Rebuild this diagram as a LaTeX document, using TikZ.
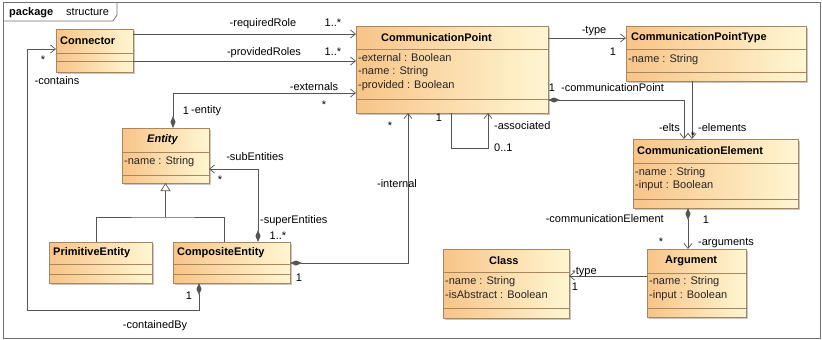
\documentclass[tikz,border=0pt]{standalone}
\usepackage{fontspec}
\setmainfont{Liberation Sans}
\usetikzlibrary{arrows.meta,calc,shadows}

\definecolor{clsL}{HTML}{F8C488}
\definecolor{clsR}{HTML}{FFF6D2}
\definecolor{clsLine}{HTML}{A8865E}
\definecolor{wire}{HTML}{555555}
\definecolor{frameLine}{HTML}{707070}

\tikzset{
  clsbox/.style={draw=clsLine, line width=0.8pt, left color=clsL, right color=clsR,
    inner sep=0pt, outer sep=0pt,
    drop shadow={shadow xshift=2pt, shadow yshift=-2pt, fill=black, opacity=0.22}},
  sepline/.style={draw=clsLine, line width=0.7pt},
  clstitle/.style={font=\fontsize{11}{13}\selectfont\bfseries, inner sep=0pt, anchor=west},
  attr/.style={font=\fontsize{11}{13}\selectfont, anchor=west, inner sep=0pt,
    text height=8pt, text depth=2.5pt, text=black!85},
  lbl/.style={font=\fontsize{11}{13}\selectfont, inner sep=0pt, text height=8pt, text depth=2pt},
  wire/.style={draw=wire, line width=0.7pt},
  nav/.style={wire, -{Straight Barb[length=5pt,width=8pt]}},
  compnav/.style={wire, {Diamond[length=12pt,width=5pt]}-{Straight Barb[length=5pt,width=8pt]}},
  gen/.style={wire, -{Triangle[open, length=8pt, width=10pt, fill=white]}},
}

% class box: name, x, y, width, height, 1st separator, 2nd separator, title, title indent
\newcommand\umlclass[9]{%
  \node[clsbox, minimum width=#4pt, minimum height=#5pt, anchor=north west] (#1) at (#2,#3) {};
  \draw[sepline] ($(#1.north west)+(0,#6)$) -- ($(#1.north east)+(0,#6)$);
  \draw[sepline] ($(#1.north west)+(0,#7)$) -- ($(#1.north east)+(0,#7)$);
  \node[clstitle] (#1-t) at ($(#1.north west)+(#9,#6/2)$) {#8};
}

\begin{document}
\begin{tikzpicture}[x=1pt, y=-1pt]
\useasboundingbox (0,0) rectangle (822,340);

% package frame
\draw[frameLine, line width=0.8pt] (3,2) rectangle (820,338);
\draw[frameLine, line width=0.8pt] (3,21) -- (113,21) -- (117,15) -- (117,2);
\node[lbl, anchor=west, font=\fontsize{11}{13}\selectfont\bfseries] (pkg-k) at (9,12) {package};
\node[lbl, anchor=west] (pkg-n) at (66,12) {structure};

% classes
\umlclass{conn}{56}{29}{77}{43}{24}{32}{Connector}{4}
\umlclass{cp}{356}{26}{192}{87}{23}{73}{CommunicationPoint}{25}
\umlclass{cpt}{626}{26}{180}{55}{23}{46}{CommunicationPointType}{5}
\umlclass{ce}{633}{139}{165}{69}{24}{60}{CommunicationElement}{4}
\umlclass{arg}{647}{249}{99}{68}{24}{59}{Argument}{18}
\umlclass{cls}{443}{249}{126}{69}{23}{59}{Class}{46}
\umlclass{ent}{122}{128}{87}{55}{24}{47}{\itshape Entity}{25}
\umlclass{pe}{49}{242}{103}{41}{22}{32}{PrimitiveEntity}{4}
\umlclass{cme}{173}{242}{117}{41}{22}{32}{CompositeEntity}{4}

% attributes
\node[attr] (cp-a1) at ($(cp.north west)+(2,33)$) {-external : Boolean};
\node[attr] (cp-a2) at ($(cp.north west)+(2,46)$) {-name : String};
\node[attr] (cp-a3) at ($(cp.north west)+(2,60)$) {-provided : Boolean};
\node[attr] (cpt-a1) at ($(cpt.north west)+(2,34)$) {-name : String};
\node[attr] (ce-a1) at ($(ce.north west)+(2,34)$) {-name : String};
\node[attr] (ce-a2) at ($(ce.north west)+(2,47)$) {-input : Boolean};
\node[attr] (arg-a1) at ($(arg.north west)+(2,33)$) {-name : String};
\node[attr] (arg-a2) at ($(arg.north west)+(2,47)$) {-input : Boolean};
\node[attr] (cls-a1) at ($(cls.north west)+(2,33)$) {-name : String};
\node[attr] (cls-a2) at ($(cls.north west)+(2,47)$) {-isAbstract : Boolean};
\node[attr] (ent-a1) at ($(ent.north west)+(2,34)$) {-name : String};

% generalization
\coordinate (bus) at ($(ent.south)+(0,34)$);
\draw[wire] ($(pe.north west)+(47,0)$) |- (bus) -| ($(cme.north west)+(51,0)$);
\draw[gen] (bus) -- (ent.south);

% associations
\draw[nav] ($(conn.north east)+(0,5)$) -- ($(cp.north west)+(0,8)$);
\draw[nav] ($(conn.north east)+(0,32)$) -- ($(cp.north west)+(0,35)$);
\draw[compnav] ($(ent.north west)+(51,0)$) |- ($(cp.north west)+(0,67)$);
\draw[compnav] ($(cme.north west)+(85,0)$) |- ($(ent.north east)+(0,41)$);
\draw[compnav] ($(cme.north east)+(0,21)$) -| ($(cp.south west)+(52,0)$);
\draw[nav] ($(cp.south west)+(95,0)$) -- ++(0,35) -| ($(cp.south west)+(132,0)$);
\draw[nav] ($(cp.north east)+(0,12)$) -- ($(cpt.north west)+(0,12)$);
\draw[compnav] ($(cp.north east)+(0,74)$) -| ($(ce.north west)+(51,0)$);
\draw[nav] ($(cpt.south west)+(66,0)$) -- ($(ce.north west)+(59,0)$);
\draw[compnav] ($(ce.south west)+(55,0)$) -- ($(arg.north west)+(41,0)$);
\draw[nav] ($(arg.north west)+(0,27)$) -- ($(cls.north east)+(0,27)$);
\draw[compnav] ($(cme.south west)+(26,0)$) -- ++(0,27) -- ++(-172,0) |- ($(conn.north west)+(0,20)$);

% role names and multiplicities
\node[lbl] (l-req) at (263,24) {-requiredRole};
\node[lbl] (l-req-m) at (333,24) {1..*};
\node[lbl] (l-prov) at (264,52) {-providedRoles};
\node[lbl] (l-prov-m) at (333,52) {1..*};
\node[lbl] (l-ext) at (314,87) {-externals};
\node[lbl] (l-ext-m) at (324,105) {*};
\node[lbl] (l-ent-m) at (186,111) {1};
\node[lbl,anchor=west] (l-ent) at (191,110) {-entity};
\node[lbl] (l-sub) at (255,157) {-subEntities};
\node[lbl] (l-sub-m) at (220,180) {*};
\node[lbl,anchor=west] (l-sup) at (260,220) {-superEntities};
\node[lbl] (l-sup-m) at (278,236) {1..*};
\node[lbl] (l-int) at (397,184) {-internal};
\node[lbl] (l-int-m1) at (299,278) {1};
\node[lbl] (l-int-m2) at (390,126) {*};
\node[lbl] (l-asc-1) at (439,118) {1};
\node[lbl,anchor=west] (l-asc) at (494,126) {-associated};
\node[lbl,anchor=west] (l-asc-m) at (494,148) {0..1};
\node[lbl] (l-type) at (594,30) {-type};
\node[lbl] (l-type-m) at (613,52) {1};
\node[lbl] (l-cp-m) at (552,88) {1};
\node[lbl,anchor=west] (l-cp) at (561,88) {-communicationPoint};
\node[lbl,anchor=east] (l-elts) at (680,128) {-elts};
\node[lbl] (l-elts-m) at (693,136) {*};
\node[lbl,anchor=west] (l-elem) at (698,128) {-elements};
\node[lbl] (l-ce-m) at (706,220) {1};
\node[lbl,anchor=east] (l-ce) at (664,219) {-communicationElement};
\node[lbl] (l-arg-m) at (661,242) {*};
\node[lbl,anchor=west] (l-arg) at (698,242) {-arguments};
\node[lbl,anchor=west] (l-atype) at (572,271) {-type};
\node[lbl] (l-atype-m) at (575,287) {1};
\node[lbl] (l-cont-m) at (43,60) {*};
\node[lbl] (l-cont) at (57,81) {-contains};
\node[lbl] (l-cby-m) at (189,296) {1};
\node[lbl] (l-cby) at (155,325) {-containedBy};
\end{tikzpicture}
\end{document}
